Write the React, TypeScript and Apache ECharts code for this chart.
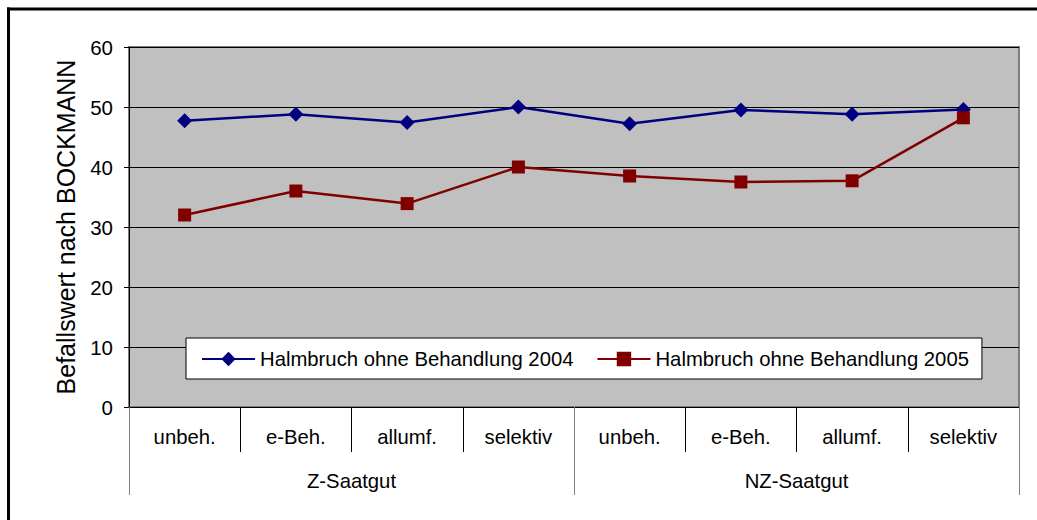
import React, { useEffect, useRef } from "react";
import * as echarts from "echarts";

const categories = ["unbeh.", "e-Beh.", "allumf.", "selektiv", "unbeh.", "e-Beh.", "allumf.", "selektiv"];
const groups = ["Z-Saatgut", "NZ-Saatgut"];
const series2004 = [47.7, 48.8, 47.4, 50.0, 47.2, 49.5, 48.8, 49.6];
const series2005 = [32.0, 36.0, 33.9, 40.0, 38.5, 37.5, 37.7, 48.2];
const name2004 = "Halmbruch ohne Behandlung 2004";
const name2005 = "Halmbruch ohne Behandlung 2005";
const yTicks = { min: 0, max: 60, interval: 10 };

const FONT = "'Liberation Sans', Arial, sans-serif";

export default function App() {
  const ref = useRef<HTMLDivElement>(null);
  useEffect(() => {
    if (!ref.current) return;
    const chart = echarts.init(ref.current, null, { renderer: "svg" });
    chart.setOption({
      animation: false,
      backgroundColor: "#ffffff",
      textStyle: { fontFamily: FONT },
      grid: {
        left: 129,
        right: 18,
        top: 47,
        bottom: 113,
        show: true,
        backgroundColor: "#C0C0C0",
        borderColor: "#808080",
        borderWidth: 2,
      },
      legend: {
        left: 186,
        top: 338,
        backgroundColor: "#ffffff",
        borderColor: "#000000",
        borderWidth: 1,
        padding: [11, 13, 10, 15],
        itemWidth: 53,
        itemHeight: 18,
        itemGap: 23,
        textStyle: { fontFamily: FONT, fontSize: 20.3, color: "#000000" },
        data: [name2004, name2005],
      },
      xAxis: [
        {
          type: "category",
          data: categories,
          position: "bottom",
          boundaryGap: true,
          axisLine: { show: true, lineStyle: { color: "#000000", width: 1 } },
          axisTick: { show: true, interval: 0, length: 45, lineStyle: { color: "#000000", width: 1 } },
          axisLabel: { interval: 0, margin: 20, fontSize: 20.3, color: "#000000", fontFamily: FONT },
          splitLine: { show: false },
        },
        {
          type: "category",
          data: groups,
          position: "bottom",
          boundaryGap: true,
          axisLine: { show: false },
          axisTick: { show: true, interval: 0, length: 88, lineStyle: { color: "#808080", width: 1 } },
          axisLabel: { interval: 0, margin: 64, fontSize: 20.3, color: "#000000", fontFamily: FONT },
          splitLine: { show: false },
        },
      ],
      yAxis: {
        type: "value",
        min: yTicks.min,
        max: yTicks.max,
        interval: yTicks.interval,
        name: "Befallswert nach BOCKMANN",
        nameLocation: "middle",
        nameGap: 51,
        nameRotate: 90,
        nameTextStyle: { fontSize: 25, color: "#000000", fontFamily: FONT },
        axisLine: { show: true, lineStyle: { color: "#000000", width: 1 } },
        axisTick: { show: true, length: 5, lineStyle: { color: "#000000" } },
        axisLabel: { fontSize: 20.5, color: "#000000", margin: 16, fontFamily: FONT },
        splitLine: { show: true, lineStyle: { color: "#000000", width: 1 } },
      },
      graphic: [
        { type: "line", shape: { x1: 7, y1: 9, x2: 1037, y2: 9 }, style: { stroke: "#000000", lineWidth: 3 } },
        { type: "line", shape: { x1: 8.5, y1: 7.5, x2: 8.5, y2: 520 }, style: { stroke: "#000000", lineWidth: 3 } },
      ],
      series: [
        {
          name: name2004,
          type: "line",
          xAxisIndex: 0,
          data: series2004,
          symbol: "diamond",
          symbolSize: 15,
          lineStyle: { color: "#000080", width: 2.5 },
          itemStyle: { color: "#000080" },
        },
        {
          name: name2005,
          type: "line",
          xAxisIndex: 0,
          data: series2005,
          symbol: "rect",
          symbolSize: 13,
          lineStyle: { color: "#800000", width: 2.5 },
          itemStyle: { color: "#800000" },
        },
      ],
    });
    return () => chart.dispose();
  }, []);
  return (
    <div
      ref={ref}
      style={{ position: "fixed", left: 0, top: 0, width: 1037, height: 520 }}
    />
  );
}
